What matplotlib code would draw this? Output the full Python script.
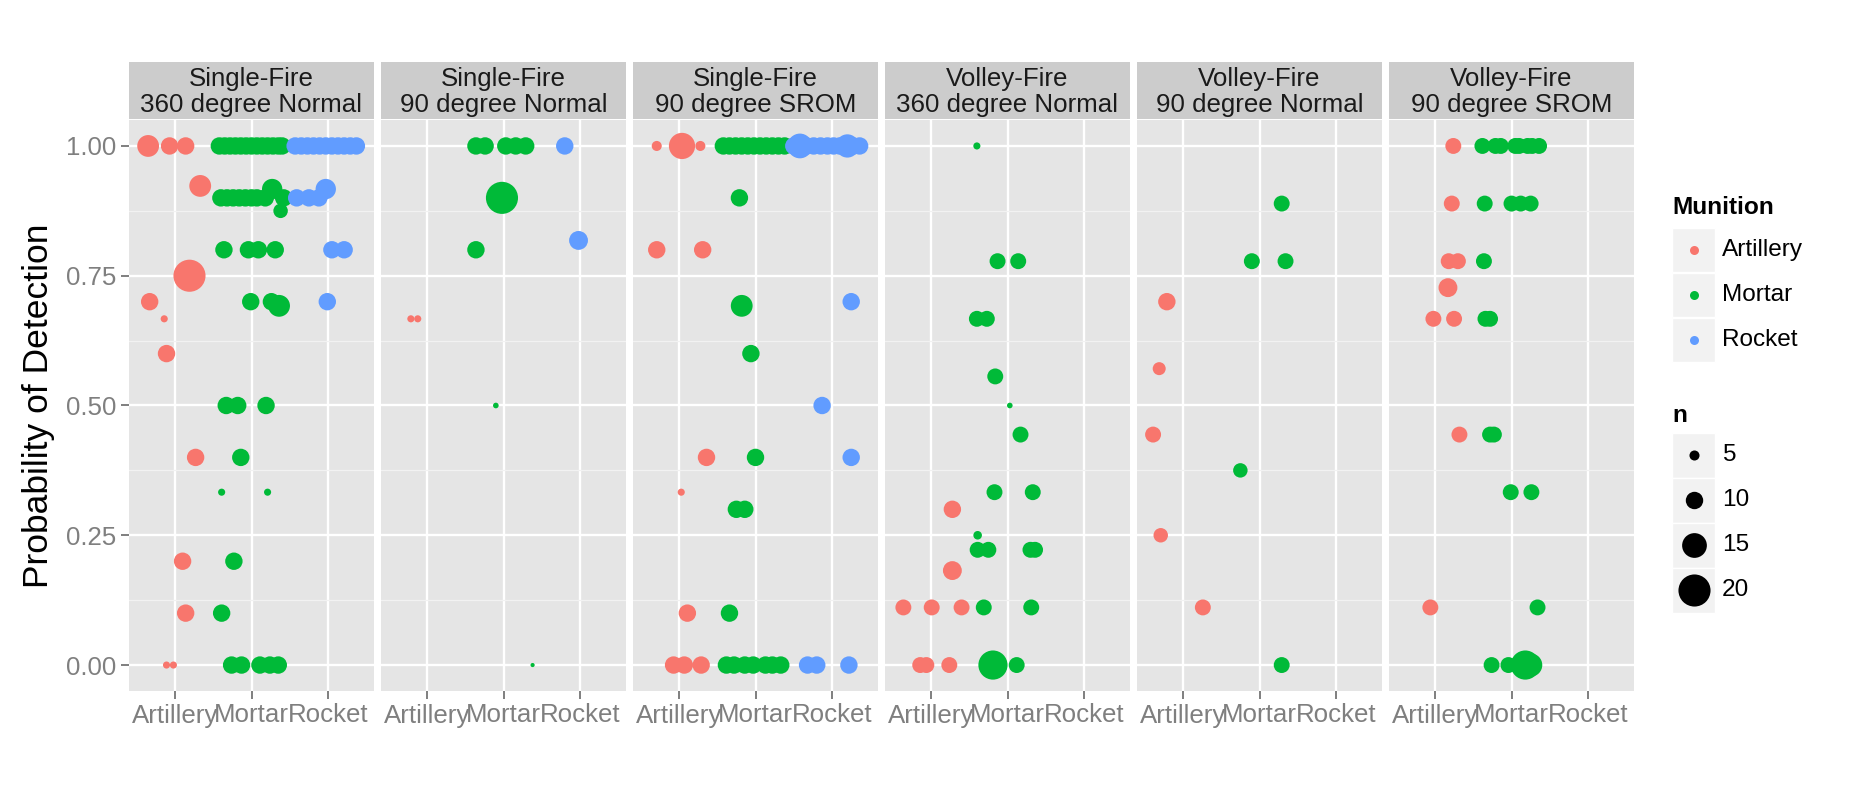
import matplotlib
matplotlib.use('Agg')
import matplotlib.pyplot as plt
from matplotlib.patches import Rectangle

plt.rcParams['font.family'] = ['Liberation Sans', 'DejaVu Sans']

# ---- data -------------------------------------------------------------
facets = ['Single-Fire\n360 degree Normal', 'Single-Fire\n90 degree Normal',
          'Single-Fire\n90 degree SROM', 'Volley-Fire\n360 degree Normal',
          'Volley-Fire\n90 degree Normal', 'Volley-Fire\n90 degree SROM']
munitions = ['Artillery', 'Mortar', 'Rocket']
colors = {'A': '#F8766D', 'M': '#00BA38', 'R': '#619CFF'}
y_breaks = [0.0, 0.25, 0.5, 0.75, 1.0]
size_breaks = [5, 10, 15, 20]

# rows: (munition, jittered x position, probability of detection, n)
sf_360_normal = [
    ('A', 0.65, 1.0, 13), ('A', 0.93, 1.0, 10), ('A', 1.14, 1.0, 10),
    ('A', 1.33, 0.923, 13), ('A', 1.19, 0.75, 20), ('A', 0.67, 0.70, 10),
    ('A', 0.86, 0.667, 3), ('A', 0.89, 0.60, 10), ('A', 1.27, 0.40, 10),
    ('A', 1.10, 0.20, 10), ('A', 1.14, 0.10, 10), ('A', 0.89, 0.0, 3),
    ('A', 0.98, 0.0, 3),
    ('M', 1.58, 1.0, 10), ('M', 1.65, 1.0, 10), ('M', 1.72, 1.0, 10),
    ('M', 1.79, 1.0, 10), ('M', 1.86, 1.0, 10), ('M', 1.93, 1.0, 10),
    ('M', 2.00, 1.0, 10), ('M', 2.07, 1.0, 10), ('M', 2.14, 1.0, 10),
    ('M', 2.21, 1.0, 10), ('M', 2.28, 1.0, 10), ('M', 2.35, 1.0, 10),
    ('M', 2.40, 1.0, 10),
    ('M', 1.60, 0.90, 10), ('M', 1.68, 0.90, 10), ('M', 1.76, 0.90, 10),
    ('M', 1.84, 0.90, 10), ('M', 1.92, 0.90, 10), ('M', 2.00, 0.90, 10),
    ('M', 2.07, 0.90, 10), ('M', 2.18, 0.90, 10), ('M', 2.42, 0.90, 10),
    ('M', 2.27, 0.917, 12), ('M', 2.38, 0.875, 8),
    ('M', 1.64, 0.80, 10), ('M', 1.96, 0.80, 10), ('M', 2.09, 0.80, 10),
    ('M', 2.31, 0.80, 10),
    ('M', 1.99, 0.70, 10), ('M', 2.26, 0.70, 10), ('M', 2.36, 0.692, 13),
    ('M', 1.67, 0.50, 10), ('M', 1.82, 0.50, 10), ('M', 2.19, 0.50, 10),
    ('M', 1.86, 0.40, 10), ('M', 1.61, 0.333, 3), ('M', 2.21, 0.333, 3),
    ('M', 1.77, 0.20, 10), ('M', 1.61, 0.10, 10),
    ('M', 1.74, 0.0, 10), ('M', 1.87, 0.0, 10), ('M', 2.11, 0.0, 10),
    ('M', 2.24, 0.0, 10), ('M', 2.35, 0.0, 10),
    ('R', 2.57, 1.0, 10), ('R', 2.65, 1.0, 10), ('R', 2.73, 1.0, 10),
    ('R', 2.81, 1.0, 10), ('R', 2.89, 1.0, 10), ('R', 2.97, 1.0, 10),
    ('R', 3.05, 1.0, 10), ('R', 3.13, 1.0, 10), ('R', 3.21, 1.0, 10),
    ('R', 3.29, 1.0, 10), ('R', 3.37, 1.0, 10),
    ('R', 2.59, 0.90, 10), ('R', 2.75, 0.90, 10), ('R', 2.88, 0.90, 10),
    ('R', 2.97, 0.917, 12),
    ('R', 3.05, 0.80, 10), ('R', 3.21, 0.80, 10), ('R', 2.99, 0.70, 10),
]

sf_90_normal = [
    ('A', 0.79, 0.667, 3), ('A', 0.88, 0.667, 3),
    ('M', 1.64, 1.0, 10), ('M', 1.76, 1.0, 10), ('M', 2.03, 1.0, 10),
    ('M', 2.16, 1.0, 10), ('M', 2.29, 1.0, 10),
    ('M', 1.98, 0.90, 20), ('M', 1.64, 0.80, 10), ('M', 1.90, 0.50, 2),
    ('M', 2.38, 0.0, 1),
    ('R', 2.80, 1.0, 10), ('R', 2.98, 0.818, 11),
]

sf_90_srom = [
    ('A', 0.71, 1.0, 5), ('A', 1.04, 1.0, 16), ('A', 1.28, 1.0, 5),
    ('A', 0.71, 0.80, 10), ('A', 1.31, 0.80, 10), ('A', 1.36, 0.40, 10),
    ('A', 1.03, 0.333, 3), ('A', 1.11, 0.10, 10),
    ('A', 0.93, 0.0, 10), ('A', 1.07, 0.0, 10), ('A', 1.29, 0.0, 10),
    ('M', 1.58, 1.0, 10), ('M', 1.66, 1.0, 10), ('M', 1.74, 1.0, 10),
    ('M', 1.82, 1.0, 10), ('M', 1.90, 1.0, 10), ('M', 1.98, 1.0, 10),
    ('M', 2.06, 1.0, 10), ('M', 2.14, 1.0, 10), ('M', 2.22, 1.0, 10),
    ('M', 2.30, 1.0, 10), ('M', 2.38, 1.0, 10),
    ('M', 1.79, 0.90, 10), ('M', 1.82, 0.692, 13), ('M', 1.94, 0.60, 10),
    ('M', 2.00, 0.40, 10), ('M', 1.75, 0.30, 10), ('M', 1.86, 0.30, 10),
    ('M', 1.66, 0.10, 10),
    ('M', 1.62, 0.0, 10), ('M', 1.72, 0.0, 10), ('M', 1.86, 0.0, 10),
    ('M', 1.97, 0.0, 10), ('M', 2.13, 0.0, 10), ('M', 2.22, 0.0, 10),
    ('M', 2.33, 0.0, 10),
    ('R', 2.50, 1.0, 10), ('R', 2.58, 1.0, 15), ('R', 2.67, 1.0, 10),
    ('R', 2.76, 1.0, 10), ('R', 2.85, 1.0, 10), ('R', 2.94, 1.0, 10),
    ('R', 3.02, 1.0, 10), ('R', 3.10, 1.0, 10), ('R', 3.20, 1.0, 14),
    ('R', 3.28, 1.0, 10), ('R', 3.36, 1.0, 10),
    ('R', 3.25, 0.70, 10), ('R', 2.87, 0.50, 10), ('R', 3.25, 0.40, 10),
    ('R', 2.68, 0.0, 10), ('R', 2.80, 0.0, 10), ('R', 3.22, 0.0, 10),
]

vf_360_normal = [
    ('A', 1.28, 0.30, 10), ('A', 1.28, 0.182, 11),
    ('A', 0.64, 0.111, 9), ('A', 1.01, 0.111, 9), ('A', 1.40, 0.111, 9),
    ('A', 0.86, 0.0, 9), ('A', 0.94, 0.0, 9), ('A', 1.24, 0.0, 9),
    ('M', 1.60, 1.0, 3), ('M', 1.87, 0.778, 9), ('M', 2.14, 0.778, 9),
    ('M', 1.60, 0.667, 9), ('M', 1.73, 0.667, 9), ('M', 1.84, 0.556, 9),
    ('M', 2.03, 0.50, 2), ('M', 2.17, 0.444, 9), ('M', 1.83, 0.333, 9),
    ('M', 2.33, 0.333, 9), ('M', 1.61, 0.25, 4), ('M', 1.61, 0.222, 9),
    ('M', 1.75, 0.222, 9), ('M', 2.30, 0.222, 9), ('M', 2.36, 0.222, 9),
    ('M', 1.69, 0.111, 9), ('M', 2.31, 0.111, 9),
    ('M', 1.81, 0.0, 18), ('M', 2.12, 0.0, 9),
]

vf_90_normal = [
    ('A', 0.79, 0.70, 10), ('A', 0.69, 0.571, 7), ('A', 0.61, 0.444, 9),
    ('A', 0.71, 0.25, 8), ('A', 1.26, 0.111, 9),
    ('M', 2.29, 0.889, 9), ('M', 1.90, 0.778, 9), ('M', 2.34, 0.778, 9),
    ('M', 1.75, 0.375, 8), ('M', 2.29, 0.0, 9),
]

vf_90_srom = [
    ('A', 1.24, 1.0, 9), ('A', 1.22, 0.889, 9), ('A', 1.18, 0.778, 9),
    ('A', 1.30, 0.778, 9), ('A', 1.17, 0.727, 11), ('A', 0.98, 0.667, 9),
    ('A', 1.25, 0.667, 9), ('A', 1.32, 0.444, 9), ('A', 0.94, 0.111, 9),
    ('M', 1.62, 1.0, 9), ('M', 1.79, 1.0, 9), ('M', 1.86, 1.0, 9),
    ('M', 2.05, 1.0, 9), ('M', 2.10, 1.0, 9), ('M', 2.21, 1.0, 9),
    ('M', 2.27, 1.0, 9), ('M', 2.36, 1.0, 9),
    ('M', 1.65, 0.889, 9), ('M', 2.00, 0.889, 9), ('M', 2.12, 0.889, 9),
    ('M', 2.25, 0.889, 9), ('M', 1.64, 0.778, 9),
    ('M', 1.66, 0.667, 9), ('M', 1.72, 0.667, 9),
    ('M', 1.72, 0.444, 9), ('M', 1.77, 0.444, 9),
    ('M', 1.99, 0.333, 9), ('M', 2.26, 0.333, 9), ('M', 2.34, 0.111, 9),
    ('M', 1.74, 0.0, 9), ('M', 1.96, 0.0, 9), ('M', 2.18, 0.0, 18),
    ('M', 2.25, 0.0, 14),
]

panels = [sf_360_normal, sf_90_normal, sf_90_srom,
          vf_360_normal, vf_90_normal, vf_90_srom]

# ---- layout (pixels) --------------------------------------------------
W, H, DPI = 1868, 787, 100
PANEL_L, PANEL_W, PANEL_GAP = 129, 245, 7
PANEL_T, PANEL_B = 120, 691
STRIP_T = 62
FS = 18.6
FS_LEGEND = 17.6
GREY = '#7F7F7F'


def diam(n):
    # point diameter in pixels grows linearly with n
    return 2.7 + 1.47 * n


def area(n):
    return (diam(n) * 72 / DPI) ** 2


fig = plt.figure(figsize=(W / DPI, H / DPI), dpi=DPI, facecolor='white')

for i, (title, rows) in enumerate(zip(facets, panels)):
    left = PANEL_L + i * (PANEL_W + PANEL_GAP)
    ax = fig.add_axes([left / W, 1 - PANEL_B / H, PANEL_W / W,
                       (PANEL_B - PANEL_T) / H])
    ax.set_facecolor('#E5E5E5')
    ax.set_xlim(0.4, 3.6)
    ax.set_ylim(-0.05, 1.05)
    for s in ax.spines.values():
        s.set_visible(False)
    ax.set_xticks([1, 2, 3])
    ax.set_xticklabels(munitions)
    ax.set_yticks(y_breaks)
    ax.set_yticks([0.125, 0.375, 0.625, 0.875], minor=True)
    ax.grid(which='major', color='white', linewidth=1.7)
    ax.grid(which='minor', axis='y', color='#F2F2F2', linewidth=0.9)
    ax.tick_params(which='minor', length=0)
    ax.tick_params(which='major', length=6, width=1.4, color=GREY,
                   labelsize=FS, labelcolor=GREY, pad=3)
    ax.set_axisbelow(True)
    if i == 0:
        ax.set_yticklabels(['%.2f' % v for v in y_breaks])
        ax.set_ylabel('Probability of Detection', fontsize=25.5,
                      color='black', labelpad=8)
    else:
        ax.set_yticklabels([])
        ax.tick_params(axis='y', length=0)

    for code in ['A', 'M', 'R']:
        pts = [r for r in rows if r[0] == code]
        if not pts:
            continue
        ax.scatter([p[1] for p in pts], [p[2] for p in pts],
                   s=[area(p[3]) for p in pts], color=colors[code],
                   linewidths=0, zorder=3, clip_on=False)

    # facet strip
    sax = fig.add_axes([left / W, 1 - (PANEL_T - 1) / H, PANEL_W / W,
                        (PANEL_T - 1 - STRIP_T) / H])
    sax.set_facecolor('#CCCCCC')
    sax.set_xticks([])
    sax.set_yticks([])
    for s in sax.spines.values():
        s.set_visible(False)
    sax.text(0.5, 0.47, title, ha='center', va='center', fontsize=FS,
             color='#1A1A1A', linespacing=1.1, transform=sax.transAxes)

# ---- legends (drawn on a pixel-space overlay) --------------------------
lg = fig.add_axes([0, 0, 1, 1])
lg.set_xlim(0, W)
lg.set_ylim(H, 0)
lg.axis('off')

KEY_X, KEY_W = 1672, 43
lg.text(KEY_X, 208, 'Munition', fontsize=FS_LEGEND, fontweight='bold',
        va='center', ha='left')
for k, (code, name) in enumerate(zip(['A', 'M', 'R'], munitions)):
    yc = 250 + 45 * k
    lg.add_patch(Rectangle((KEY_X, yc - 22), KEY_W, 44, facecolor='#F2F2F2',
                           edgecolor='white', linewidth=1))
    lg.scatter([KEY_X + KEY_W / 2], [yc], s=(9 * 72 / DPI) ** 2,
               color=colors[code], linewidths=0)
    lg.text(1722, yc, name, fontsize=FS_LEGEND, va='center', ha='left')

lg.text(KEY_X, 415, 'n', fontsize=FS_LEGEND, fontweight='bold',
        va='center', ha='left')
for k, nb in enumerate(size_breaks):
    yc = 455 + 45 * k
    lg.add_patch(Rectangle((KEY_X, yc - 22.5), KEY_W, 45, facecolor='#F2F2F2',
                           edgecolor='white', linewidth=1))
    lg.scatter([KEY_X + KEY_W / 2], [yc], s=area(nb), color='black',
               linewidths=0)
    lg.text(1722, yc, str(nb), fontsize=FS_LEGEND, va='center', ha='left')

fig.savefig('out.png', dpi=DPI, facecolor='white')
